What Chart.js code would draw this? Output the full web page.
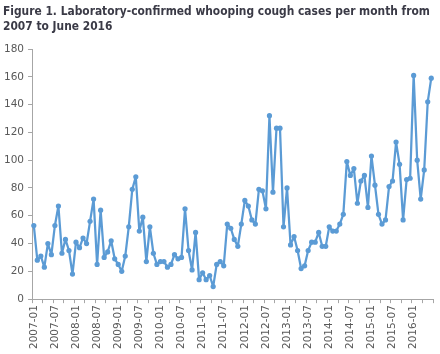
<!DOCTYPE html>
<html>
<head>
<meta charset="utf-8">
<script src="https://cdn.jsdelivr.net/npm/chart.js@4"></script>
<style>
  html, body { margin: 0; padding: 0; background: #fff; }
  #wrap { position: relative; width: 440px; height: 354px; overflow: hidden; }
  #title { position: absolute; left: 3px; top: 3px; font-family: "DejaVu Sans", Verdana, sans-serif; font-weight: bold; font-size: 12.5px; line-height: 15px; color: #3a3a46; white-space: nowrap; transform-origin: 0 0; }
  canvas { position: absolute; left: 0; top: 0; }
</style>
</head>
<body>
<div id="wrap">
  <canvas id="c" width="440" height="354"></canvas>
  <div id="title"><span id="t1">Figure 1. Laboratory-confirmed whooping cough cases per month from</span><br>2007 to June 2016</div>
</div>
<script>
// fit the title's first line to the reference width
(function () {
  const t = document.getElementById('title');
  const w = document.getElementById('t1').getBoundingClientRect().width;
  const target = 427;
  if (w > 0) t.style.transform = 'scaleX(' + (target / w) + ')';
})();

// Months 2007-01 .. 2016-06
const months = [];
for (let y = 2007; y <= 2016; y++) {
  for (let m = 1; m <= 12; m++) {
    if (y === 2016 && m > 6) break;
    months.push(y + '-' + String(m).padStart(2, '0'));
  }
}

const cases2007 = [53, 28, 31, 23, 40, 32, 53, 67, 33, 43, 35, 18];
const cases2008 = [41, 37, 44, 40, 56, 72, 25, 64, 30, 34, 42, 29];
const cases2009 = [25, 20, 31, 52, 79, 88, 49, 59, 27, 52, 33, 25];
const cases2010 = [27, 27, 23, 25, 32, 29, 30, 65, 35, 21, 48, 14];
const cases2011 = [19, 14, 17, 9, 25, 27, 24, 54, 51, 43, 38, 54];
const cases2012 = [71, 67, 57, 54, 79, 78, 65, 132, 77, 123, 123, 52];
const cases2013 = [80, 39, 45, 35, 22, 24, 35, 41, 41, 48, 38, 38];
const cases2014 = [52, 49, 49, 54, 61, 99, 89, 94, 69, 85, 89, 66];
const cases2015 = [103, 82, 61, 54, 57, 81, 85, 113, 97, 57, 86, 87];
const cases2016 = [161, 100, 72, 93, 142, 159];

const cases = [].concat(cases2007, cases2008, cases2009, cases2010, cases2011,
  cases2012, cases2013, cases2014, cases2015, cases2016);

const yTicks = [0, 20, 40, 60, 80, 100, 120, 140, 160, 180];

const axisGray = '#a6a6a6';
const labelGray = '#595959';
const font = { family: '"DejaVu Sans", Verdana, sans-serif', size: 10.5 };

new Chart(document.getElementById('c'), {
  type: 'line',
  data: {
    labels: months,
    datasets: [{
      data: cases,
      borderColor: '#5b9bd5',
      backgroundColor: '#5b9bd5',
      borderWidth: 2.25,
      borderJoinStyle: 'round',
      borderCapStyle: 'round',
      pointRadius: 2.6,
      pointBorderWidth: 0,
      pointBackgroundColor: '#5b9bd5',
      tension: 0,
      fill: false
    }]
  },
  options: {
    responsive: false,
    animation: false,
    devicePixelRatio: 1,
    layout: { padding: { top: 49, left: 0, right: 7, bottom: 3 } },
    plugins: { legend: { display: false }, title: { display: false }, tooltip: { enabled: false } },
    scales: {
      x: {
        type: 'category',
        offset: true,
        afterFit: (scale) => { scale.paddingRight = 0; scale.paddingLeft = 0; },
        grid: {
          offset: true,
          drawOnChartArea: false,
          drawTicks: true,
          tickLength: 4,
          tickColor: (ctx) => (ctx.index === undefined || ctx.index % 3 === 0) ? axisGray : 'rgba(0,0,0,0)',
          color: axisGray
        },
        border: { display: true, color: axisGray, width: 1 },
        ticks: {
          autoSkip: false,
          minRotation: 90,
          maxRotation: 90,
          padding: 2,
          color: labelGray,
          font: font,
          callback: function(val, idx) { return idx % 6 === 0 ? this.getLabelForValue(val) : ''; }
        }
      },
      y: {
        min: yTicks[0],
        max: yTicks[yTicks.length - 1],
        afterBuildTicks: (scale) => { scale.ticks = yTicks.map(v => ({ value: v })); },
        grid: { drawOnChartArea: false, tickLength: 4, tickColor: axisGray, color: axisGray },
        border: { display: true, color: axisGray, width: 1 },
        ticks: { color: labelGray, font: font, padding: 4 }
      }
    }
  }
});
</script>
</body>
</html>
